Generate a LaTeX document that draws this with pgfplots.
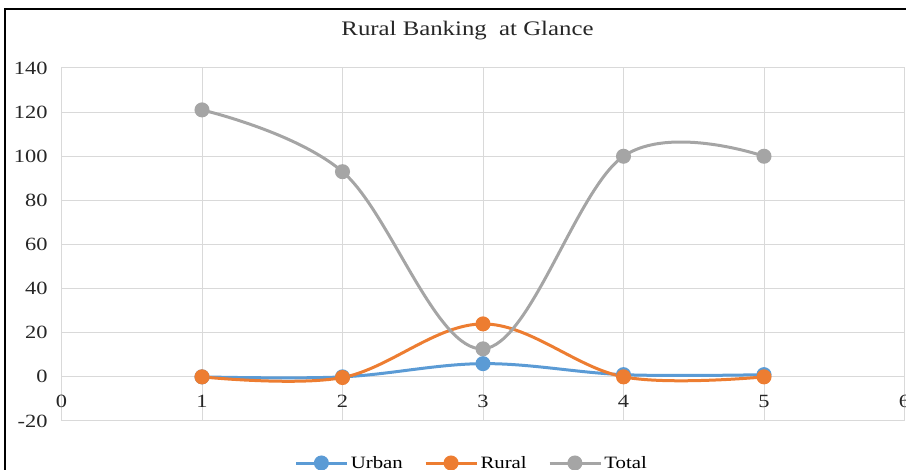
\documentclass[border=0pt]{standalone}
\usepackage{fontspec}
\setmainfont[FakeStretch=1.2]{Liberation Serif}
\usepackage{pgfplots}
\pgfplotsset{compat=1.18}

\definecolor{urban}{HTML}{5B9BD5}
\definecolor{rural}{HTML}{ED7D31}
\definecolor{total}{HTML}{A5A5A5}
\definecolor{gridc}{HTML}{D9D9D9}

\begin{document}
\begin{tikzpicture}
    % page = 906 x 470 px, 1 px = 0.75pt
    \path[use as bounding box] (0,0) rectangle (679.5pt,352.5pt);
    \draw[line width=1.5pt] (3.375pt,-20pt) -- (3.375pt,345.375pt) -- (700pt,345.375pt);
    \begin{axis}[
        at={(46.125pt,36.75pt)}, anchor=south west,
        scale only axis,
        width=632.25pt, height=264.75pt,
        xmin=0, xmax=6, ymin=-20, ymax=140,
        xtick={0,...,6}, ytick={-20,0,...,140},
        grid=major,
        major grid style={gridc, line width=0.75pt},
        axis line style={gridc, line width=0.75pt},
        major tick length=0pt,
        /pgf/number format/assume math mode=true,
        tick label style={font=\fontsize{14}{16}\selectfont, text=black!85},
        xticklabel style={anchor=north, yshift=23pt},
        yticklabel style={xshift=-7pt},
        title={Rural Banking\ \ at Glance},
        title style={at={(axis description cs:0.4816,1.068)}, anchor=base,
                     font=\fontsize{15.5}{18}\selectfont, text=black!85},
        legend columns=3,
        legend style={at={(axis description cs:0.487,-0.119)}, anchor=center,
                      draw=none, fill=none, font=\fontsize{13}{15}\selectfont,
                      /tikz/every even column/.append style={column sep=14pt}},
        legend image code/.code={
            \draw[#1, mark repeat=2, mark phase=2]
                plot coordinates {(0pt,0pt) (19pt,0pt) (38pt,0pt)};},
        every axis plot/.append style={smooth, tension=0.6, line width=2.25pt,
                                       mark=*, mark size=4.5pt},
    ]
    \addplot[urban, mark options={fill=urban, draw=urban}] coordinates {
        (1,0) (2,0) (3,6) (4,1) (5,1)
    };
    \addlegendentry{Urban}
    \addplot[rural, mark options={fill=rural, draw=rural}] coordinates {
        (1,0) (2,-0.3) (3,24) (4,0) (5,0)
    };
    \addlegendentry{Rural}
    \addplot[total, mark options={fill=total, draw=total}] coordinates {
        (1,121) (2,93) (3,12.7) (4,100) (5,100)
    };
    \addlegendentry{Total}
    \end{axis}
\end{tikzpicture}
\end{document}
